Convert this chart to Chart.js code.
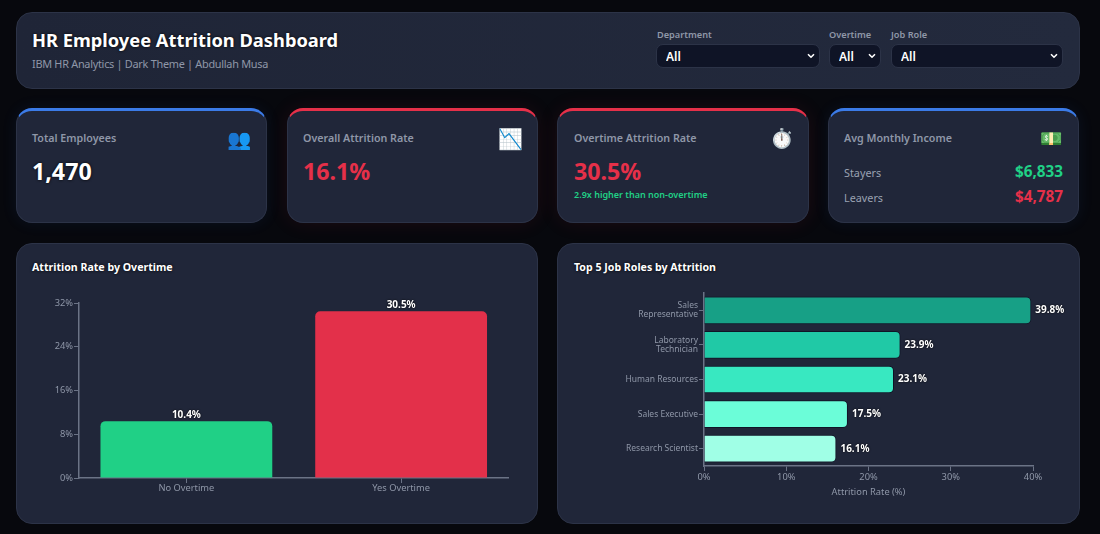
<!DOCTYPE html>
<html><head><meta charset="utf-8">
<script src="https://cdn.jsdelivr.net/npm/chart.js@4"></script>
<style>
*{box-sizing:border-box}
html,body{margin:0;padding:0;width:1100px;height:534px;overflow:hidden;background:#07080d;font-family:"Noto Sans",sans-serif}
.p{position:absolute;background:#202639;border:1px solid #2c3347;border-radius:16px}
.t{position:absolute;white-space:nowrap;line-height:1}
.card{top:108px;height:115px;width:251px;border-top:3px solid}
.blue{border-top-color:#3b7be8;box-shadow:0 0 16px rgba(59,123,232,.09)}
.red{border-top-color:#e63049;box-shadow:0 0 20px rgba(230,48,73,.10)}
select{position:absolute;top:44px;height:24px;appearance:none;-webkit-appearance:none;color:#fff;border:1px solid #2c3347;border-radius:7px;font:600 12px "Noto Sans",sans-serif;padding-left:9px;
background:#0f1426 url("data:image/svg+xml,%3Csvg xmlns='http://www.w3.org/2000/svg' width='8' height='6'%3E%3Cpath d='M1 1.2l3 3 3-3' fill='none' stroke='%23fff' stroke-width='1.6'/%3E%3C/svg%3E") no-repeat right 4px center}
.lbl{font-size:10.7px;font-weight:600;color:#8f97a8}
.fl{font-size:9.2px;font-weight:600;color:#8f97a8;top:30px}
.big{font-size:23.2px;font-weight:700;top:160px}
.ct{font-size:10.6px;font-weight:700;color:#fff;text-shadow:0 0 3px #000}
canvas{position:absolute}
</style></head><body>
<div class="p" style="left:16px;top:12px;width:1064px;height:77px;background:linear-gradient(90deg,#1f2537,#232a3d)"></div>
<div class="t" style="left:32px;top:31px;font-size:18.3px;font-weight:700;color:#fff;text-shadow:0 0 3px #000">HR Employee Attrition Dashboard</div>
<div class="t" style="left:32px;top:59px;font-size:10.9px;letter-spacing:-.28px;color:#8f97a8">IBM HR Analytics | Dark Theme | Abdullah Musa</div>
<div class="t fl" style="left:657px">Department</div>
<div class="t fl" style="left:829px">Overtime</div>
<div class="t fl" style="left:891px">Job Role</div>
<select style="left:656px;width:164px"><option>All</option></select>
<select style="left:829px;width:52px"><option>All</option></select>
<select style="left:891px;width:172px"><option>All</option></select>

<div class="p card blue" style="left:16px"></div>
<div class="p card red" style="left:287px"></div>
<div class="p card red" style="left:557px;width:252px"></div>
<div class="p card blue" style="left:828px"></div>
<div class="t lbl" style="left:32px;top:133px">Total Employees</div>
<div class="t big" style="left:32px;color:#fff;text-shadow:0 0 3px #000">1,470</div>
<div class="t" style="left:227px;top:129px;font-size:19.5px">👥</div>
<div class="t lbl" style="left:303px;top:133px">Overall Attrition Rate</div>
<div class="t big" style="left:303px;color:#e63049">16.1%</div>
<div class="t" style="left:498px;top:129px;font-size:20px">📉</div>
<div class="t lbl" style="left:574px;top:133px">Overtime Attrition Rate</div>
<div class="t big" style="left:574px;color:#e63049">30.5%</div>
<div class="t" style="left:574px;top:190px;font-size:9px;font-weight:600;color:#20d086">2.9x higher than non-overtime</div>
<div class="t" style="left:770px;top:129px;font-size:19px">⏱️</div>
<div class="t lbl" style="left:844px;top:133px">Avg Monthly Income</div>
<div class="t" style="left:1040px;top:129px;font-size:18px">💵</div>
<div class="t" style="left:844px;top:168px;font-size:10.8px;color:#9aa2b2">Stayers</div>
<div class="t" style="left:844px;top:193px;font-size:10.8px;color:#9aa2b2">Leavers</div>
<div class="t" style="right:37px;top:164px;font-size:15.3px;font-weight:700;color:#20d086">$6,833</div>
<div class="t" style="right:37px;top:189px;font-size:15.3px;font-weight:700;color:#e63049">$4,787</div>

<div class="p" style="left:16px;top:243px;width:522px;height:281px"></div>
<div class="p" style="left:557px;top:243px;width:523px;height:281px"></div>
<div class="t ct" style="left:32px;top:262px">Attrition Rate by Overtime</div>
<div class="t ct" style="left:574px;top:262px">Top 5 Job Roles by Attrition</div>
<canvas id="c1" style="left:16px;top:243px"></canvas>
<canvas id="c2" style="left:558px;top:243px"></canvas>
<script>
const overtimeLabels = ["No Overtime", "Yes Overtime"];
const overtimeRates = [10.4, 30.5];
const overtimeColors = ["#20d086", "#e3304a"];
const overtimeTicks = [0, 8, 16, 24, 32];
const roleLabels = [["Sales", "Representative"], ["Laboratory", "Technician"], "Human Resources", "Sales Executive", "Research Scientist"];
const roleRates = [39.8, 23.9, 23.1, 17.5, 16.1];
const roleColors = ["#17a086", "#20c9a6", "#38e8c1", "#6bfdd8", "#a0ffe6"];
const roleTicks = [0, 10, 20, 30, 40];

const AXIS = "#6b7386", TICK = "#8f97a8", FONT = '"Noto Sans",sans-serif';
Chart.defaults.font.family = FONT;
Chart.defaults.color = TICK;
Chart.defaults.animation = false;
Chart.defaults.responsive = false;

const valueLabels = {
  id: "valueLabels",
  afterDatasetsDraw(chart) {
    const c = chart.ctx, horiz = chart.options.indexAxis === "y";
    const vals = chart.data.datasets[0].data;
    c.save();
    c.font = "700 10px " + FONT;
    c.fillStyle = "#fff";
    c.shadowColor = "#000"; c.shadowBlur = 2;
    chart.getDatasetMeta(0).data.forEach((b, i) => {
      const s = vals[i].toFixed(1) + "%";
      if (horiz) { c.textAlign = "left"; c.textBaseline = "middle"; c.fillText(s, b.x + 4, b.y); }
      else { c.textAlign = "center"; c.textBaseline = "bottom"; c.fillText(s, b.x, b.y - 1); }
    });
    c.restore();
  }
};
function axis(size, extra, pad) {
  return Object.assign({
    border: { color: AXIS, width: 1.5 },
    grid: { drawOnChartArea: false, offset: false, color: AXIS, tickLength: 5, tickWidth: 1 },
    ticks: { color: TICK, padding: pad || 0, maxRotation: 0, autoSkip: false, font: { size: size, lineHeight: 1.05 } }
  }, extra);
}
function pct(size) {
  return { color: TICK, padding: 1, maxRotation: 0, autoSkip: false, callback: v => v + "%", font: { size: size } };
}
function fixed(prop, v) { return s => { s[prop] = v; }; }
function forced(list) { return s => { s.ticks = list.map(v => ({ value: v })); }; }

const c1 = document.getElementById("c1"); c1.width = 522; c1.height = 281;
new Chart(c1, {
  type: "bar",
  data: { labels: overtimeLabels, datasets: [{ data: overtimeRates, backgroundColor: overtimeColors,
    barPercentage: 0.8, categoryPercentage: 1, borderRadius: 5 }] },
  options: {
    layout: { padding: { top: 60, right: 29.5, bottom: 0, left: 0 } },
    plugins: { legend: { display: false }, tooltip: { enabled: false } },
    scales: {
      x: axis(9.3, { afterFit: fixed("height", 46) }),
      y: axis(9.3, { min: 0, max: 32, afterFit: fixed("width", 63), afterBuildTicks: forced(overtimeTicks), ticks: pct(9.3) })
    }
  },
  plugins: [valueLabels]
});
c1.style.width = "522px"; c1.style.height = "281px";

const c2 = document.getElementById("c2"); c2.width = 522; c2.height = 281;
new Chart(c2, {
  type: "bar",
  data: { labels: roleLabels, datasets: [{ data: roleRates, backgroundColor: roleColors,
    borderColor: "#0f1426", borderWidth: 1, barPercentage: 0.8, categoryPercentage: 1, borderRadius: 5 }] },
  options: {
    indexAxis: "y",
    layout: { padding: { top: 50, right: 47, bottom: 26, left: 0 } },
    plugins: { legend: { display: false }, tooltip: { enabled: false } },
    scales: {
      y: axis(8.5, { afterFit: fixed("width", 146) }, 1),
      x: axis(9.3, { min: 0, max: 40, afterFit: fixed("height", 32), afterBuildTicks: forced(roleTicks),
        title: { display: true, text: "Attrition Rate (%)", color: TICK, font: { size: 9.3 }, padding: { top: 4, bottom: 0 } },
        ticks: pct(9.3) })
    }
  },
  plugins: [valueLabels]
});
c2.style.width = "522px"; c2.style.height = "281px";
</script>
</body></html>
